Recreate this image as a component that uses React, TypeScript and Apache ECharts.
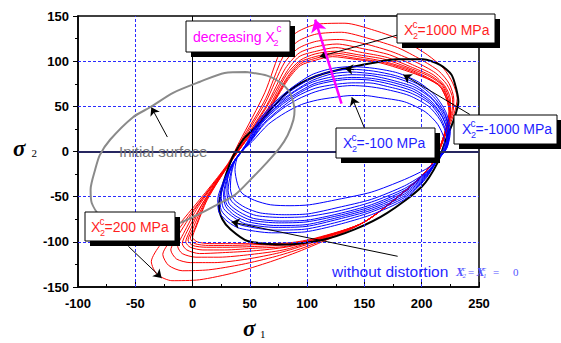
import React, { useEffect, useRef } from 'react';
import * as echarts from 'echarts';

// ---------- data (in axis units) ----------
const xMin = -100, xMax = 250, xStep = 50;
const yMin = -150, yMax = 150, yStep = 50;

const gridXDashed = [-50, 50, 100, 150, 200];
const gridYDashed = [-100, -50, 50, 100];

// red family: X2c from 200 MPa (outer) to 1000 MPa (inner)
const red0 = [[212,-9],[228,41],[231,59],[227,76],[219,92],[205,107],[185,122],[159,134],[133,142],[109,141],[91,132],[78,115],[63,65],[41,11],[30,-15],[-8,-75],[-28,-103],[-36,-122],[-31,-136],[-18,-143],[6,-142],[37,-134],[68,-122],[98,-108],[150,-78],[197,-31],[212,-9]];
const red1 = [[212,-9],[227,42],[228,58],[224,75],[215,89],[199,102],[179,115],[154,125],[130,132],[108,130],[92,122],[79,105],[64,59],[42,11],[31,-14],[-2,-69],[-19,-98],[-26,-114],[-21,-126],[-9,-132],[14,-131],[43,-125],[73,-116],[100,-105],[150,-78],[197,-31],[212,-9]];
const red2 = [[212,-9],[226,42],[227,58],[222,74],[212,87],[195,99],[175,110],[151,119],[128,124],[108,122],[92,114],[80,98],[64,55],[43,11],[31,-14],[2,-64],[-13,-94],[-19,-109],[-14,-119],[-2,-123],[19,-123],[48,-119],[76,-112],[102,-102],[150,-78],[197,-31],[212,-9]];
const red3 = [[212,-9],[225,43],[225,58],[220,73],[210,85],[192,96],[172,107],[148,114],[126,119],[108,116],[93,109],[81,92],[65,52],[44,11],[32,-13],[5,-61],[-8,-91],[-13,-105],[-9,-113],[3,-117],[23,-117],[51,-114],[79,-109],[104,-100],[150,-78],[197,-31],[212,-9]];
const red4 = [[212,-9],[225,43],[224,58],[219,73],[208,84],[190,94],[170,104],[146,110],[125,115],[108,111],[93,105],[82,88],[65,50],[45,11],[32,-13],[8,-59],[-5,-89],[-9,-102],[-5,-109],[6,-113],[26,-112],[53,-110],[81,-106],[105,-99],[150,-78],[197,-31],[212,-9]];
const red5 = [[212,-9],[225,43],[223,57],[218,73],[207,83],[188,93],[168,102],[145,107],[124,111],[107,108],[94,101],[82,85],[66,48],[45,11],[32,-13],[9,-57],[-2,-87],[-6,-100],[-2,-106],[9,-109],[28,-109],[55,-107],[82,-105],[105,-98],[150,-78],[197,-31],[212,-9]];
const red6 = [[212,-9],[224,44],[223,57],[217,72],[205,82],[187,92],[166,100],[144,105],[123,109],[107,105],[94,99],[83,83],[66,46],[46,11],[33,-12],[11,-55],[0,-86],[-4,-98],[0,-104],[12,-106],[30,-106],[57,-105],[83,-103],[106,-97],[150,-78],[197,-31],[212,-9]];
const red7 = [[212,-9],[224,44],[222,57],[216,72],[205,81],[186,91],[165,99],[143,103],[122,107],[107,103],[94,97],[83,81],[66,45],[46,11],[33,-12],[12,-54],[2,-85],[-2,-96],[2,-102],[14,-104],[32,-104],[58,-103],[84,-102],[107,-97],[150,-78],[197,-31],[212,-9]];
const red8 = [[212,-9],[224,44],[222,57],[216,72],[204,81],[185,90],[164,98],[142,102],[122,105],[107,101],[94,95],[83,79],[66,44],[46,11],[33,-12],[13,-53],[3,-84],[0,-95],[4,-100],[15,-102],[33,-102],[59,-102],[85,-101],[107,-96],[150,-78],[197,-31],[212,-9]];

// blue family: X2c from -1000 MPa (outer) to -100 MPa (inner)
const blue0 = [[213,-11],[222,4],[225,22],[221,44],[211,63],[197,77],[179,87],[159,92],[139,94],[122,92],[104,85],[87,71],[72,55],[57,33],[46,7],[34,-15],[27,-33],[22,-53],[23,-67],[31,-78],[41,-85],[69,-90],[98,-89],[127,-81],[156,-70],[185,-53],[203,-31],[213,-11]];
const blue1 = [[213,-11],[222,4],[224,21],[220,43],[210,61],[196,75],[177,84],[158,89],[139,91],[122,89],[105,82],[88,69],[73,54],[58,33],[47,7],[35,-14],[28,-32],[24,-51],[25,-65],[33,-76],[44,-82],[71,-87],[98,-86],[127,-78],[156,-67],[185,-51],[203,-30],[213,-11]];
const blue2 = [[213,-11],[221,3],[224,20],[220,41],[209,59],[195,73],[176,82],[157,86],[139,88],[122,86],[105,79],[89,67],[74,53],[59,32],[47,8],[35,-13],[29,-30],[25,-49],[27,-63],[36,-73],[46,-80],[72,-84],[99,-83],[127,-75],[156,-65],[185,-49],[203,-29],[213,-11]];
const blue3 = [[213,-11],[221,3],[224,19],[219,40],[209,58],[194,71],[174,79],[156,84],[139,85],[123,83],[105,77],[89,66],[75,52],[60,32],[48,8],[36,-12],[30,-29],[27,-48],[29,-61],[37,-71],[49,-78],[73,-82],[99,-81],[127,-73],[156,-63],[185,-47],[203,-28],[213,-11]];
const blue4 = [[213,-11],[221,3],[223,18],[218,39],[208,56],[193,69],[173,77],[156,81],[139,82],[123,80],[106,75],[90,64],[75,51],[60,32],[48,8],[36,-11],[31,-28],[28,-46],[30,-59],[39,-69],[51,-76],[75,-79],[99,-78],[127,-71],[156,-61],[185,-45],[203,-27],[213,-11]];
const blue5 = [[213,-11],[220,2],[223,17],[218,38],[207,55],[192,67],[171,75],[155,79],[139,80],[123,78],[106,73],[91,63],[76,50],[61,32],[49,9],[37,-10],[31,-27],[30,-45],[32,-58],[41,-67],[53,-74],[76,-77],[100,-76],[127,-69],[156,-59],[185,-43],[203,-26],[213,-11]];
const blue6 = [[213,-11],[220,2],[222,16],[217,36],[207,53],[190,65],[170,72],[154,76],[139,76],[123,74],[107,70],[91,61],[77,48],[62,31],[49,9],[37,-9],[33,-26],[31,-43],[34,-55],[44,-65],[56,-71],[78,-73],[100,-72],[127,-66],[156,-56],[185,-41],[203,-25],[213,-11]];
const blue7 = [[213,-11],[219,1],[222,15],[216,35],[206,50],[189,62],[168,69],[153,72],[139,73],[123,71],[107,66],[92,58],[78,47],[63,31],[50,10],[38,-8],[34,-24],[33,-41],[36,-53],[46,-62],[59,-68],[80,-70],[101,-69],[127,-62],[156,-53],[185,-38],[203,-24],[213,-11]];
const blue8 = [[213,-11],[218,0],[220,11],[214,30],[203,44],[185,55],[162,60],[150,62],[139,62],[124,60],[109,57],[95,52],[81,43],[66,30],[52,11],[40,-4],[37,-20],[39,-35],[43,-46],[54,-54],[68,-59],[85,-60],[102,-59],[127,-53],[156,-45],[185,-31],[203,-20],[213,-11]];

// black: without distortion (X2c = X1c = 0)
const noDistortion = [[35,-6],[29,-26],[25,-44],[23,-61],[26,-75],[33,-86],[48,-99],[81,-103],[113,-98],[142,-86],[170,-68],[200,-39],[214,-12],[221,13],[228,35],[232,55],[230,70],[226,85],[216,96],[201,102],[178,102],[157,98],[133,92],[107,83],[85,68],[70,49],[59,32],[44,13],[35,-6]];

// grey: initial surface
const initialSurface = [[47,88],[65,84],[76,77],[85,65],[89,46],[88,35],[83,18],[76,4],[65,-12],[53,-28],[37,-48],[21,-59],[6,-69],[-11,-79],[-30,-85],[-50,-86],[-68,-82],[-81,-71],[-88,-57],[-89,-42],[-85,-20],[-81,-4],[-72,13],[-52,38],[-37,49],[-17,65],[6,77],[28,87],[47,88]];

// annotation arrows [from, to] in axis units
const blackArrows = [
  [[-22, 16], [-36, 49]],
  [[179, 129], [111, 105]],
  [[242, 41], [184, 85]],
  [[150, 26], [139, 60]],
  [[-56, -105], [-27, -140]],
  [[179, -116], [34, -78]],
  [[141, 90.5], [133, 92]],
];
const magentaArrow = [[130, 53], [107, 146]];

const redSet = [red0, red1, red2, red3, red4, red5, red6, red7, red8];
const blueSet = [blue0, blue1, blue2, blue3, blue4, blue5, blue6, blue7, blue8];

// ---------- styling helpers ----------
const SANS = '"Liberation Sans", Arial, sans-serif';
const SERIF = '"Liberation Serif", "Times New Roman", serif';
const RED_T = '#ff1f1f';
const BLUE_T = '#1f1fff';

function txt(x: number, base: number, text: string, size: number, fill: string, style = '', family = SANS) {
  return {
    type: 'text', z: 100, silent: true, x, y: base - 0.35 * size,
    style: {
      text, fill, font: `${style} ${size}px ${family}`.trim(),
      align: 'left', verticalAlign: 'middle', textAlign: 'left', textVerticalAlign: 'middle',
    },
  };
}
function box(x: number, y: number, w: number, h: number) {
  return [
    { type: 'rect', z: 99, silent: true, shape: { x: x + 5, y: y + 5, width: w, height: h }, style: { fill: '#000' } },
    { type: 'rect', z: 99, silent: true, shape: { x, y, width: w, height: h }, style: { fill: '#fff', stroke: '#000', lineWidth: 1 } },
  ];
}
function xLabel(x: number, base: number, rest: string, color: string) {
  return [
    txt(x, base, 'X', 14, color),
    txt(x + 9, base + 4, '2', 9, color),
    txt(x + 8.5, base - 7.5, 'c', 10, color),
    txt(x + 13.5, base, rest, 14, color),
  ];
}

function curve(data: number[][], color: string, width: number, z: number) {
  return {
    type: 'line', data, showSymbol: false, symbol: 'none', smooth: 0.25,
    lineStyle: { color, width }, silent: true, z, emphasis: { disabled: true },
  };
}

export default function App() {
  const ref = useRef<HTMLDivElement>(null);
  useEffect(() => {
    if (!ref.current) return;
    const chart = echarts.init(ref.current, undefined, { renderer: 'svg' });
    const dashed = { color: '#2b2bff', width: 1, type: [3, 2] };
    const gridLines = {
      type: 'line', data: [], z: 1, silent: true,
      markLine: {
        silent: true, symbol: ['none', 'none'], label: { show: false }, emphasis: { disabled: true },
        data: [
          ...gridXDashed.map((v) => ({ xAxis: v, lineStyle: dashed })),
          ...gridYDashed.map((v) => ({ yAxis: v, lineStyle: dashed })),
          { xAxis: 0, lineStyle: { color: '#000', width: 1, type: 'solid' } },
          { yAxis: 0, lineStyle: { color: '#262660', width: 2, type: 'solid' } },
        ],
      },
    };
    const arrowSeries = {
      type: 'line', data: [], z: 6, silent: true,
      markLine: {
        silent: true, symbol: ['none', 'arrow'], symbolSize: 8, label: { show: false },
        emphasis: { disabled: true }, lineStyle: { color: '#000', width: 1, type: 'solid' },
        data: blackArrows.map(([a, b]) => [{ coord: a }, { coord: b }]),
      },
    };
    const magentaSeries = {
      type: 'line', data: [], z: 7, silent: true,
      markLine: {
        silent: true, symbol: ['none', 'arrow'], symbolSize: 12, label: { show: false },
        emphasis: { disabled: true }, lineStyle: { color: '#ff00ff', width: 2.5, type: 'solid' },
        data: [[{ coord: magentaArrow[0] }, { coord: magentaArrow[1] }]],
      },
    };
    const axisLabel = { color: '#000', fontWeight: 'bold', fontSize: 13, fontFamily: SANS };
    const graphic = [
      ...box(186, 21, 104, 31),
      txt(193, 42, 'decreasing X', 14, '#ff00ff'),
      txt(273.5, 46, '2', 9, '#ff00ff'),
      txt(276.5, 31.5, 'c', 10, '#ff00ff'),
      ...box(397, 14, 98, 29),
      ...xLabel(404, 35, '=1000 MPa', RED_T),
      ...box(336, 128, 99, 30),
      ...xLabel(343, 148, '=-100 MPa', BLUE_T),
      ...box(454, 115, 103, 29),
      ...xLabel(462, 134, '=-1000 MPa', BLUE_T),
      ...box(85, 212, 90, 29),
      ...xLabel(91, 232, '=200 MPa', RED_T),
      txt(119, 157, 'Initial surface', 15, '#777'),
      txt(332, 277, 'without distortion', 15.5, BLUE_T),
      txt(456, 276, 'X', 12, '#5555ff', 'italic bold', SERIF),
      txt(462.5, 278.5, '2', 7, '#5555ff', 'italic', SERIF),
      txt(462.5, 271, 'c', 7, '#5555ff', 'italic', SERIF),
      txt(468, 276, '=', 11, '#5555ff', '', SERIF),
      txt(476.5, 276, 'X', 12, '#5555ff', 'italic bold', SERIF),
      txt(483, 278.5, '1', 7, '#5555ff', 'italic', SERIF),
      txt(483, 271, 'c', 7, '#5555ff', 'italic', SERIF),
      txt(493, 276, '=', 11, '#5555ff', '', SERIF),
      txt(513, 276, '0', 11, '#5555ff', '', SERIF),
      txt(13, 157, 'σ', 23, '#000', 'italic bold', SERIF),
      txt(31.5, 157, '2', 11, '#000', '', SERIF),
      txt(243, 337, 'σ', 23, '#000', 'italic bold', SERIF),
      txt(260, 338, '1', 11, '#000', '', SERIF),
    ];
    chart.setOption({
      animation: false,
      grid: { left: 78, right: 82, top: 16, bottom: 56, show: true, borderColor: '#000', borderWidth: 1.5 },
      xAxis: {
        type: 'value', min: xMin, max: xMax, interval: xStep,
        axisLine: { show: true, onZero: false, lineStyle: { color: '#000', width: 1.5 } },
        axisTick: { show: true, inside: true, length: 5, lineStyle: { color: '#000' } },
        minorTick: { show: true, splitNumber: 2, length: 3, lineStyle: { color: '#000' } },
        splitLine: { show: false },
        axisLabel: { ...axisLabel, margin: 10 },
      },
      yAxis: {
        type: 'value', min: yMin, max: yMax, interval: yStep,
        axisLine: { show: true, onZero: false, lineStyle: { color: '#000', width: 1.5 } },
        axisTick: { show: true, inside: false, length: 5, lineStyle: { color: '#000' } },
        minorTick: { show: true, splitNumber: 2, length: 3, lineStyle: { color: '#000' } },
        splitLine: { show: false },
        axisLabel: { ...axisLabel, margin: 9 },
      },
      series: [
        gridLines,
        ...redSet.map((d) => curve(d, '#ff0000', 1, 2)),
        curve(noDistortion, '#000', 2, 3),
        ...blueSet.map((d) => curve(d, '#0000ff', 1, 4)),
        curve(initialSurface, '#8a8a8a', 2, 5),
        arrowSeries,
        magentaSeries,
      ],
      graphic,
    });
    return () => chart.dispose();
  }, []);
  return (
    <div
      ref={ref}
      style={{ position: 'fixed', left: 0, top: 0, width: 561, height: 343, background: '#fff' }}
    />
  );
}
